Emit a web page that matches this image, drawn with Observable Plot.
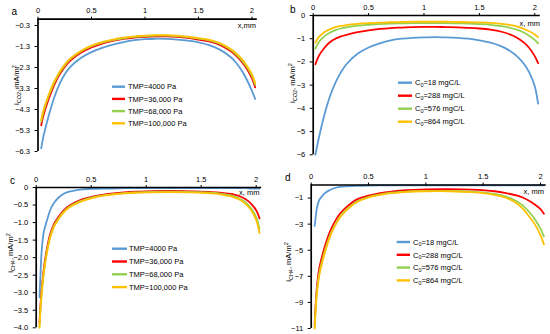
<!DOCTYPE html>
<html><head><meta charset="utf-8">
<script src="https://cdn.jsdelivr.net/npm/d3@7"></script>
<script src="https://cdn.jsdelivr.net/npm/@observablehq/plot@0.6"></script>
<style>
body{margin:0;background:#fff;}
#root{position:relative;width:550px;height:334px;font-family:"Liberation Sans",Arial,sans-serif;}
.panel{position:absolute;width:275px;height:167px;}
.panel svg{overflow:visible;}
</style></head><body><div id="root"></div>
<script>
// ---- data ----
const X_A = [0.03,0.05,0.1,0.15,0.2,0.25,0.3,0.4,0.5,0.6,0.7,0.8,0.9,1.0,1.1,1.2,1.3,1.4,1.5,1.6,1.7,1.8,1.85,1.9,1.95,2.0,2.03];
const X_B = [0.02,0.05,0.1,0.15,0.2,0.25,0.3,0.4,0.5,0.6,0.7,0.8,0.9,1.0,1.1,1.2,1.3,1.4,1.5,1.6,1.7,1.8,1.85,1.9,1.95,2.0,2.03];
const X_CD = [0.03,0.04,0.05,0.07,0.1,0.13,0.16,0.2,0.25,0.3,0.4,0.5,0.6,0.7,0.8,0.9,1.0,1.2,1.4,1.6,1.7,1.8,1.85,1.9,1.95,2.0,2.03];

const A_TMP4000   = [-6.15,-5.6,-4.6,-3.75,-3.1,-2.62,-2.28,-1.85,-1.57,-1.37,-1.21,-1.09,-1.0,-0.95,-0.93,-0.94,-0.97,-1.02,-1.1,-1.23,-1.45,-1.8,-2.06,-2.41,-2.86,-3.41,-3.8];
const A_TMP36000  = [-5.05,-4.6,-3.8,-3.15,-2.65,-2.27,-1.98,-1.6,-1.34,-1.16,-1.03,-0.94,-0.88,-0.84,-0.82,-0.82,-0.84,-0.89,-0.97,-1.06,-1.22,-1.52,-1.73,-2.0,-2.35,-2.82,-3.25];
const A_TMP68000  = [-4.88,-4.43,-3.66,-3.04,-2.56,-2.2,-1.91,-1.54,-1.29,-1.12,-1.0,-0.91,-0.84,-0.8,-0.78,-0.78,-0.8,-0.85,-0.92,-1.01,-1.17,-1.46,-1.67,-1.93,-2.27,-2.7,-3.12];
const A_TMP100000 = [-4.8,-4.36,-3.6,-2.99,-2.52,-2.16,-1.88,-1.51,-1.26,-1.09,-0.97,-0.88,-0.82,-0.78,-0.76,-0.76,-0.78,-0.83,-0.9,-0.99,-1.14,-1.42,-1.62,-1.87,-2.2,-2.62,-3.05];

const B_C18  = [-6.0,-5.3,-4.3,-3.5,-2.9,-2.45,-2.1,-1.65,-1.38,-1.2,-1.07,-1.0,-0.96,-0.94,-0.93,-0.94,-0.96,-1.0,-1.07,-1.17,-1.33,-1.6,-1.8,-2.07,-2.45,-3.05,-3.8];
const B_C288 = [-2.1,-1.75,-1.4,-1.15,-1.0,-0.9,-0.83,-0.72,-0.64,-0.58,-0.54,-0.52,-0.5,-0.49,-0.49,-0.5,-0.51,-0.53,-0.56,-0.61,-0.7,-0.86,-0.99,-1.16,-1.4,-1.75,-2.05];
const B_C576 = [-1.43,-1.15,-0.9,-0.74,-0.63,-0.56,-0.51,-0.44,-0.4,-0.37,-0.35,-0.34,-0.33,-0.33,-0.33,-0.33,-0.34,-0.35,-0.37,-0.4,-0.46,-0.56,-0.63,-0.73,-0.87,-1.05,-1.2];
const B_C864 = [-1.17,-0.93,-0.72,-0.59,-0.5,-0.45,-0.41,-0.36,-0.33,-0.31,-0.29,-0.28,-0.27,-0.27,-0.27,-0.27,-0.28,-0.29,-0.3,-0.32,-0.36,-0.43,-0.49,-0.57,-0.68,-0.82,-0.93];

const C_TMP4000   = [-3.13,-2.4,-1.8,-1.25,-0.92,-0.62,-0.45,-0.3,-0.18,-0.12,-0.06,-0.04,-0.03,-0.03,-0.02,-0.02,-0.02,-0.02,-0.02,-0.02,-0.02,-0.02,-0.02,-0.02,-0.03,-0.03,-0.03];
const C_TMP36000  = [-3.85,-3.3,-2.9,-2.3,-1.7,-1.3,-1.05,-0.85,-0.65,-0.52,-0.36,-0.27,-0.21,-0.17,-0.14,-0.12,-0.11,-0.1,-0.11,-0.13,-0.16,-0.2,-0.25,-0.33,-0.45,-0.65,-0.88];
const C_TMP68000  = [-3.95,-3.4,-3.0,-2.38,-1.78,-1.36,-1.1,-0.89,-0.69,-0.55,-0.39,-0.29,-0.23,-0.19,-0.16,-0.14,-0.13,-0.12,-0.13,-0.15,-0.19,-0.25,-0.32,-0.42,-0.58,-0.85,-1.17];
const C_TMP100000 = [-4.0,-3.45,-3.05,-2.42,-1.82,-1.4,-1.13,-0.92,-0.71,-0.57,-0.41,-0.31,-0.24,-0.2,-0.17,-0.15,-0.14,-0.13,-0.14,-0.17,-0.21,-0.28,-0.35,-0.46,-0.63,-0.93,-1.3];

const D_C18  = [-3.13,-2.4,-1.75,-1.15,-0.8,-0.55,-0.4,-0.25,-0.15,-0.1,-0.06,-0.04,-0.03,-0.03,-0.03,-0.03,-0.03,-0.03,-0.03,-0.03,-0.03,-0.03,-0.03,-0.03,-0.03,-0.03,-0.03];
const D_C288 = [-10.7,-9.0,-7.8,-6.4,-5.3,-4.4,-3.65,-2.9,-2.2,-1.75,-1.1,-0.82,-0.62,-0.5,-0.42,-0.37,-0.34,-0.32,-0.36,-0.48,-0.62,-0.82,-0.98,-1.2,-1.5,-1.85,-2.2];
const D_C576 = [-10.9,-9.3,-8.1,-6.75,-5.65,-4.72,-3.95,-3.17,-2.43,-1.94,-1.26,-0.92,-0.72,-0.59,-0.52,-0.47,-0.45,-0.45,-0.51,-0.68,-0.88,-1.28,-1.6,-2.05,-2.6,-3.35,-3.95];
const D_C864 = [-11.0,-9.45,-8.3,-6.95,-5.8,-4.85,-4.05,-3.25,-2.5,-2.0,-1.3,-0.95,-0.75,-0.62,-0.55,-0.5,-0.48,-0.48,-0.55,-0.75,-0.98,-1.45,-1.85,-2.4,-3.0,-3.85,-4.55];

const X_TICKS = [0, 0.5, 1, 1.5, 2];
const Y_TICKS_A = [-0.3,-1.3,-2.3,-3.3,-4.3,-5.3,-6.3];
const Y_TICKS_B = [0,-1,-2,-3,-4,-5,-6];
const Y_TICKS_C = [0,-0.5,-1.0,-1.5,-2.0,-2.5,-3.0,-3.5,-4.0];
const Y_TICKS_D = [-1,-3,-5,-7,-9,-11];
const TMP_LABELS = ["TMP=4000 Pa","TMP=36,000 Pa","TMP=68,000 Pa","TMP=100,000 Pa"];
const C0_VALUES = ["18","288","576","864"];
const COLORS = ["#5B9BD5","#FF0000","#92D050","#FFC000"];

const FONT = '"Liberation Sans", Arial, sans-serif';
const minus = v => v === 0 ? "0" : "\u2212" + Math.abs(v);
const minus1 = v => v === 0 ? "0" : "\u2212" + Math.abs(v).toFixed(1);

function panel(cfg) {
  const div = document.createElement("div");
  div.className = "panel";
  div.style.left = cfg.left + "px";
  div.style.top = cfg.top + "px";
  document.getElementById("root").appendChild(div);
  const lines = cfg.series.map((ys, i) =>
    Plot.line(cfg.xs.map((x, j) => ({x, y: ys[j]})),
      {x: "x", y: "y", stroke: COLORS[i], strokeWidth: 1.8, curve: "catmull-rom"}));
  const svg = Plot.plot({
    width: 275, height: 167,
    marginLeft: cfg.m[0], marginRight: cfg.m[1], marginTop: cfg.m[2], marginBottom: cfg.m[3],
    x: {domain: [0, 2.05]},
    y: {domain: [cfg.ymin, 0]},
    style: {fontSize: "7.5px", fontFamily: FONT, background: "transparent", color: "#000"},
    marks: [
      ...lines,
      Plot.ruleX([0], {stroke: "#000", strokeWidth: 1.7}),
      Plot.ruleY([0], {stroke: "#000", strokeWidth: 1.7}),
      Plot.axisX({anchor: "top", ticks: X_TICKS, tickSize: 3, tickPadding: 3, tickFormat: d => String(d), label: null}),
      Plot.axisY({anchor: "left", ticks: cfg.yTicks, tickSize: 3, tickPadding: 5, tickFormat: cfg.fmt, label: null})
    ]
  });
  div.appendChild(svg);
  const s = d3.select(svg);
  s.append("text").attr("x", cfg.letter[1]).attr("y", cfg.letter[2]).attr("text-anchor", "start")
    .attr("font-size", 10).attr("font-family", FONT).text(cfg.letter[0]);
  s.append("text").attr("x", cfg.xl[1]).attr("y", cfg.xl[2]).attr("text-anchor", "end")
    .attr("font-size", 7.5).attr("font-family", FONT).text(cfg.xl[0]);
  const yl = s.append("text").attr("transform", `translate(${cfg.yl[0]},${cfg.yl[1]}) rotate(-90)`)
    .attr("text-anchor", "middle").attr("font-size", 7.5).attr("font-family", FONT);
  yl.append("tspan").text("i");
  yl.append("tspan").attr("font-size", 5.5).attr("dy", 2).text(cfg.sub);
  yl.append("tspan").attr("dy", -2).text(", mA/m");
  yl.append("tspan").attr("font-size", 5.5).attr("dy", -3).text("2");
  const lg = cfg.legend;
  cfg.series.forEach((_, i) => {
    const y = lg.y0 + i * lg.dy;
    s.append("line").attr("x1", lg.x1).attr("x2", lg.x2).attr("y1", y).attr("y2", y)
      .attr("stroke", COLORS[i]).attr("stroke-width", 2.4);
    const t = s.append("text").attr("x", lg.tx).attr("y", y + 2.7).attr("text-anchor", "start")
      .attr("font-size", 7.5).attr("font-family", FONT);
    if (cfg.c0) {
      t.append("tspan").text("C");
      t.append("tspan").attr("font-size", 5.5).attr("dy", 1.5).text("0");
      t.append("tspan").attr("dy", -1.5).text("=" + C0_VALUES[i] + " mgC/L");
    } else {
      t.text(TMP_LABELS[i]);
    }
  });
}

panel({left: 0, top: 0, m: [37.5, 18.2, 18.7, 16], xs: X_A, ymin: -6.3,
  series: [A_TMP4000, A_TMP36000, A_TMP68000, A_TMP100000],
  yTicks: Y_TICKS_A, fmt: minus1, letter: ["a", 11.5, 15], xl: ["x,mm", 256, 27.5],
  yl: [18.5, 85], sub: "CO2", legend: {x1: 112, x2: 125, tx: 128, y0: 86.7, dy: 12.2}});
panel({left: 275, top: 0, m: [37.7, 10.2, 15, 12.7], xs: X_B, ymin: -6,
  series: [B_C18, B_C288, B_C576, B_C864],
  yTicks: Y_TICKS_B, fmt: minus, letter: ["b", 15, 13.3], xl: ["x, mm", 265, 25.5],
  yl: [20, 83], sub: "CO2", c0: true, legend: {x1: 123, x2: 137, tx: 140, y0: 82.7, dy: 13}});
panel({left: 0, top: 167, m: [35.7, 13.8, 20, 6.7], xs: X_CD, ymin: -4,
  series: [C_TMP4000, C_TMP36000, C_TMP68000, C_TMP100000],
  yTicks: Y_TICKS_C, fmt: minus1, letter: ["c", 10, 16.7], xl: ["x, mm", 259.5, 28],
  yl: [13, 86], sub: "CH4", legend: {x1: 112, x2: 127, tx: 129, y0: 81.7, dy: 12.8}});
panel({left: 275, top: 167, m: [35.7, 4.3, 17.5, 6], xs: X_CD, ymin: -11,
  series: [D_C18, D_C288, D_C576, D_C864],
  yTicks: Y_TICKS_D, fmt: minus, letter: ["d", 10, 14], xl: ["x, mm", 269, 27],
  yl: [16, 95], sub: "CH4", c0: true, legend: {x1: 121.7, x2: 135, tx: 138, y0: 75, dy: 12.8}});
</script></body></html>
